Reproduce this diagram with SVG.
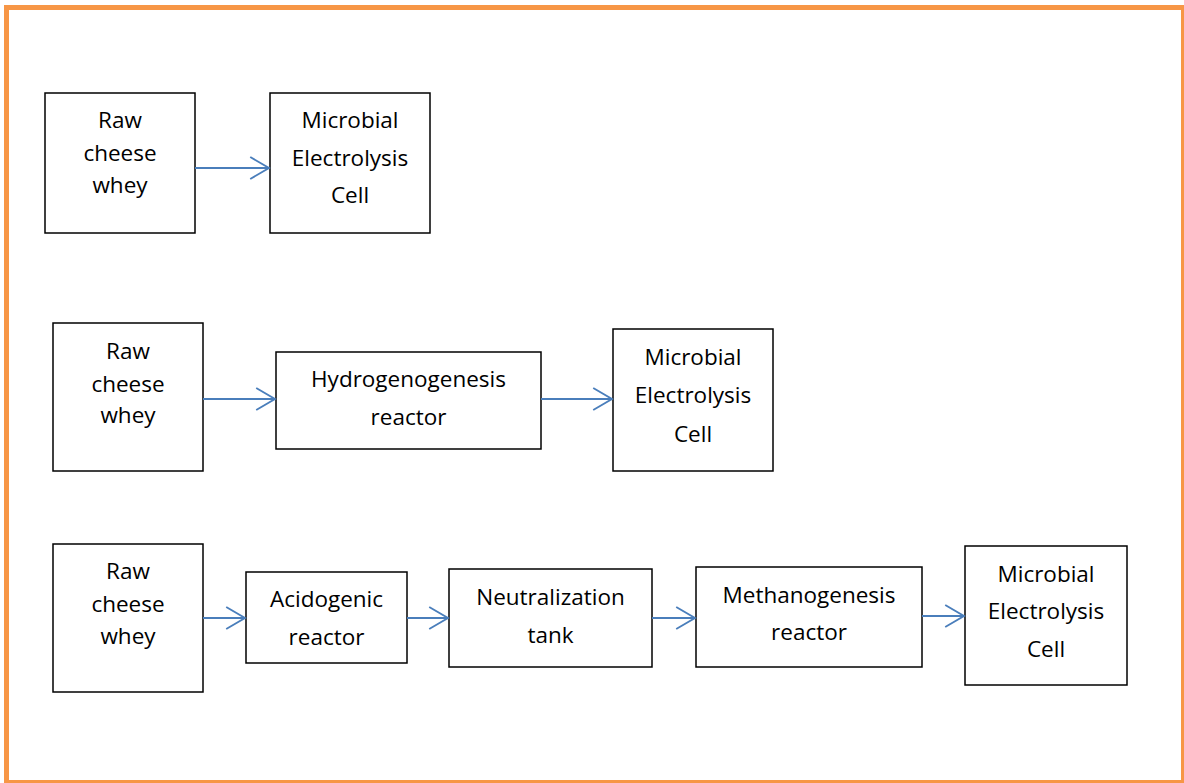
<svg xmlns="http://www.w3.org/2000/svg" width="1184" height="783" viewBox="0 0 1184 783">
<style>
.box{fill:#fff;stroke:#000;stroke-width:1.5}
.t{font-family:"Open Sans","Liberation Sans",sans-serif;font-size:22.5px;fill:#000;text-anchor:middle}
.c{fill:none;stroke:#4A7EBB;stroke-width:1.8}
</style>
<defs>
<marker id="ah" markerUnits="userSpaceOnUse" markerWidth="22" markerHeight="24" viewBox="-1 -1 21 23" refX="18" refY="10.5" orient="auto">
<path d="M0,0 L18,10.5 L0,21" fill="none" stroke="#4A7EBB" stroke-width="1.8"/>
</marker>
</defs>
<rect x="0" y="0" width="1184" height="783" fill="#fff"/>
<rect x="6.5" y="7.5" width="1177" height="775" fill="none" stroke="#F79646" stroke-width="5"/>

<g id="r1-whey"><rect class="box" x="45" y="93" width="150" height="140"/>
<text class="t" x="120" y="128">Raw</text><text class="t" x="120" y="161">cheese</text><text class="t" x="120" y="193">whey</text></g>
<g id="r1-mec"><rect class="box" x="270" y="93" width="160" height="140"/>
<text class="t" x="350" y="128">Microbial</text><text class="t" x="350" y="166">Electrolysis</text><text class="t" x="350" y="203">Cell</text></g>

<g id="r2-whey"><rect class="box" x="53" y="323" width="150" height="148"/>
<text class="t" x="128" y="359">Raw</text><text class="t" x="128" y="392">cheese</text><text class="t" x="128" y="423">whey</text></g>
<g id="r2-hydro"><rect class="box" x="276" y="352" width="265" height="97"/>
<text class="t" x="408.5" y="387">Hydrogenogenesis</text><text class="t" x="408.5" y="425">reactor</text></g>
<g id="r2-mec"><rect class="box" x="613" y="329" width="160" height="142"/>
<text class="t" x="693" y="365">Microbial</text><text class="t" x="693" y="403">Electrolysis</text><text class="t" x="693" y="442">Cell</text></g>

<g id="r3-whey"><rect class="box" x="53" y="544" width="150" height="148"/>
<text class="t" x="128" y="579">Raw</text><text class="t" x="128" y="612">cheese</text><text class="t" x="128" y="644">whey</text></g>
<g id="r3-acid"><rect class="box" x="246" y="572" width="161" height="91"/>
<text class="t" x="326.5" y="607">Acidogenic</text><text class="t" x="326.5" y="645">reactor</text></g>
<g id="r3-neut"><rect class="box" x="449" y="569" width="203" height="98"/>
<text class="t" x="550.5" y="605">Neutralization</text><text class="t" x="550.5" y="643">tank</text></g>
<g id="r3-meth"><rect class="box" x="696" y="567" width="226" height="100"/>
<text class="t" x="809" y="603">Methanogenesis</text><text class="t" x="809" y="640">reactor</text></g>
<g id="r3-mec"><rect class="box" x="965" y="546" width="162" height="139"/>
<text class="t" x="1046" y="582">Microbial</text><text class="t" x="1046" y="619">Electrolysis</text><text class="t" x="1046" y="657">Cell</text></g>

<g id="connectors">
<path class="c" d="M195,168 H269" marker-end="url(#ah)"/>
<path class="c" d="M203,399 H275" marker-end="url(#ah)"/>
<path class="c" d="M541,399 H612" marker-end="url(#ah)"/>
<path class="c" d="M203,618 H245" marker-end="url(#ah)"/>
<path class="c" d="M407,618 H448" marker-end="url(#ah)"/>
<path class="c" d="M652,618 H695" marker-end="url(#ah)"/>
<path class="c" d="M922,616 H964" marker-end="url(#ah)"/>
</g>
</svg>
